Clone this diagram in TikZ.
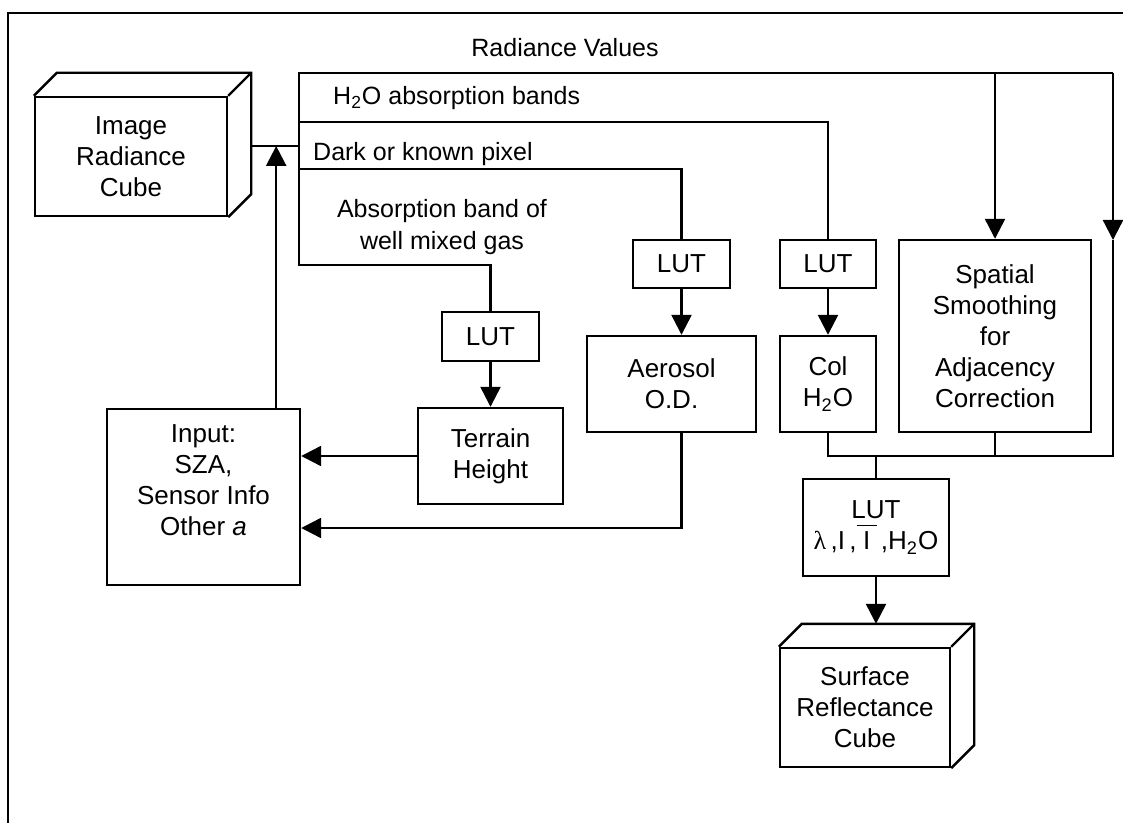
\documentclass[tikz,border=0pt]{standalone}
\usepackage{fontspec}
\setmainfont{Liberation Sans}
\newfontfamily\greekfont{Liberation Serif}
\usetikzlibrary{arrows.meta, calc}

\begin{document}
\begin{tikzpicture}[x=0.5pt, y=-0.5pt, line width=1.2pt, font=\fontsize{12.5}{16}\selectfont]
        \tikzstyle{box} = [rectangle, draw=black, line width=1.2pt, inner sep=0pt, align=center, font=\fontsize{13}{15.5}\selectfont]
        \tikzstyle{arr} = [-{Triangle[length=10pt, width=10pt]}]
        \tikzstyle{lbl} = [inner sep=0pt, align=center]

        \useasboundingbox (0,0) rectangle (1123,823);
        \draw (8,823) -- (8,13) -- (1123,13);

        \node[box, minimum width=96pt, minimum height=59.5pt] (cubeA) at (131,156.5) {Image\\Radiance\\Cube};
        \draw (cubeA.north west) -- ++(23,-23) -- ($(cubeA.north east)+(23,-23)$) -- ($(cubeA.south east)+(23,-23)$) -- (cubeA.south east);
        \draw (cubeA.north east) -- ++(23,-23);

        \node[box, minimum width=96.5pt, minimum height=88pt] (input) at (203.5,497) {};
        \node[lbl, font=\fontsize{13}{15.5}\selectfont] (inputTxt) at (203.5,480) {Input:\\SZA,\\Sensor Info\\Other \textit{a}};

        \node[box, minimum width=48.5pt, minimum height=24.5pt] (lut1) at (490.5,336.5) {LUT};
        \node[box, minimum width=72.5pt, minimum height=48pt] (terrain) at (490.5,456) {Terrain\\Height};

        \node[box, minimum width=48.5pt, minimum height=24pt] (lut2) at (681.5,264) {LUT};
        \node[box, minimum width=84.5pt, minimum height=48pt] (aerosol) at (671.5,384) {Aerosol\\O.D.};

        \node[box, minimum width=48pt, minimum height=24pt] (lut3) at (828,264) {LUT};
        \node[box, minimum width=48pt, minimum height=48pt] (col) at (828,384) {Col\\H\textsubscript{2}O};

        \node[box, minimum width=96pt, minimum height=96pt] (spatial) at (995,336) {Spatial\\Smoothing\\for\\Adjacency\\Correction};

        \node[box, minimum width=73pt, minimum height=48.5pt] (lut4) at (876,527.5) {LUT\\{\greekfont λ}\,,I\,,$\overline{\rule{0pt}{11pt}\makebox[10pt]{I}}$\,,H\textsubscript{2}O};

        \node[box, minimum width=85pt, minimum height=59.5pt] (cubeB) at (865,707.5) {Surface\\Reflectance\\Cube};
        \draw (cubeB.north west) -- ++(23,-23) -- ($(cubeB.north east)+(23,-23)$) -- ($(cubeB.south east)+(23,-23)$) -- (cubeB.south east);
        \draw (cubeB.north east) -- ++(23,-23);
        \coordinate (cubeBtop) at ($(cubeB.north)+(0,-23)$);

        \coordinate (tTop) at (299,73);
        \coordinate (tH) at (299,122);
        \coordinate (jA) at (299,146);
        \coordinate (tD) at (299,169);
        \coordinate (tBot) at (299,265);
        \coordinate (rTop) at (1113,73);
        \coordinate (rArr) at (1113,240);
        \coordinate (mJ) at (1113,456);
        \coordinate (iUp) at ($(input.north east)+(-25,0)$);

        \node[lbl, anchor=base] (radLbl) at (565,57) {Radiance Values};
        \node[lbl, anchor=base west] (h2oLbl) at (332,105) {H\textsubscript{2}O absorption bands};
        \node[lbl, anchor=base west] (darkLbl) at (312,161) {Dark or known pixel};
        \node[lbl] (gasLbl) at (442,227) {Absorption band of\\well mixed gas};

        \draw ($(cubeA.east)+(23,-10.5)$) -- (jA);
        \draw (rTop) -- (tTop) -- (tBot) -- (lut1.north |- tBot) -- (lut1.north);
        \draw (tH) -- (lut3.north |- tH) -- (lut3.north);
        \draw (tD) -- (lut2.north |- tD) -- (lut2.north);
        \draw[arr] (spatial.north |- tTop) -- (spatial.north);
        \draw[arr] (rTop) -- (rArr);
        \draw (rArr) -- (mJ) -- (col.south |- mJ) -- (col.south);
        \draw (spatial.south) -- (spatial.south |- mJ);
        \draw (lut4.north |- mJ) -- (lut4.north);

        \draw[arr] (lut1.south) -- (terrain.north);
        \draw[arr] (lut2.south) -- (lut2.south |- aerosol.north);
        \draw[arr] (lut3.south) -- (col.north);
        \draw[arr] (lut4.south) -- (lut4.south |- cubeBtop);
        \draw[arr] (terrain.west) -- (terrain.west -| input.east);
        \draw[arr] (lut2.south |- aerosol.south) |- ($(input.east)+(0,31)$);
        \draw[arr] (iUp) -- (iUp |- jA);
    \end{tikzpicture}
\end{document}
